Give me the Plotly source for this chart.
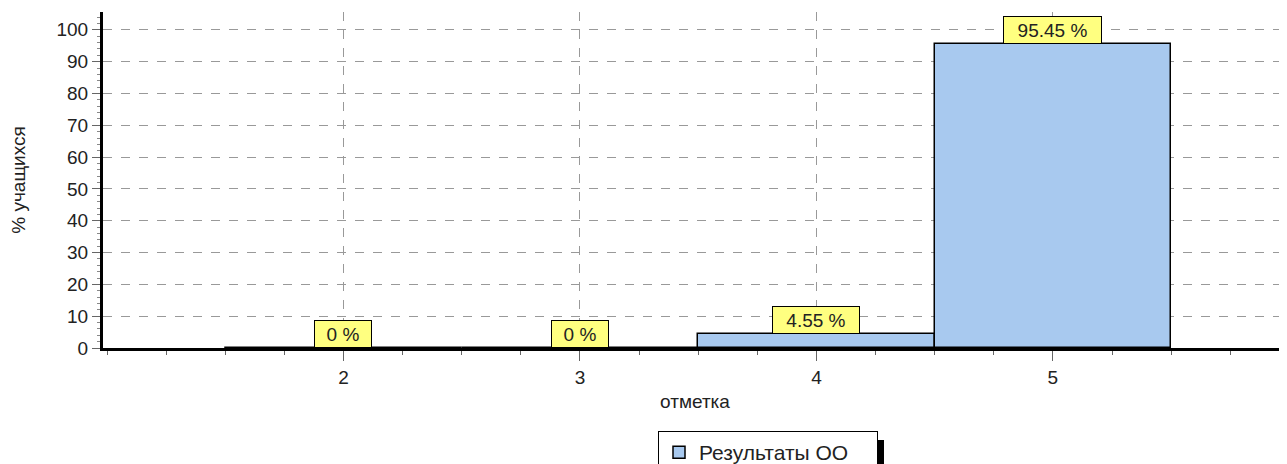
import plotly.graph_objects as go

categories = [2, 3, 4, 5]
values = [0, 0, 4.55, 95.45]
labels = ["0 %", "0 %", "4.55 %", "95.45 %"]
series_name = "Результаты ОО"
x_title = "отметка"
y_title = "% учащихся"
y_ticks = [0, 10, 20, 30, 40, 50, 60, 70, 80, 90, 100]

FONT = "Liberation Sans, Arial, sans-serif"
label_widths = [52, 52, 82, 93]

# page body has an 8px default margin; figure sized to fit the 1287x464 window
W, H = 1279, 456
L, T, B = 95, 4, 116
PW, PH = W - L, H - T - B

fig = go.Figure()
fig.add_trace(go.Bar(
    x=categories, y=values, width=1.0, name=series_name + "\u00a0" * 4,
    marker=dict(color="#a8c9ef", line=dict(color="black", width=1.5)),
    showlegend=True,
))

for xv, yv, txt, w in zip(categories, values, labels, label_widths):
    fig.add_annotation(
        x=xv, y=yv, text=txt, showarrow=False, yanchor="bottom", xanchor="center",
        bgcolor="#ffff80", bordercolor="black", borderwidth=1, borderpad=2,
        width=w, height=22, font=dict(family=FONT, size=19, color="#222"),
    )

fig.update_layout(
    width=W, height=H,
    margin=dict(l=L, r=0, t=T, b=B, autoexpand=False),
    plot_bgcolor="white", paper_bgcolor="white",
    font=dict(family=FONT, size=19, color="#222"),
    bargap=0,
    legend=dict(
        orientation="h", x=(650 - L) / PW, xanchor="left", y=(T + PH - 423) / PH, yanchor="top",
        bordercolor="black", borderwidth=1, bgcolor="white",
        font=dict(family=FONT, size=21, color="#222"),
    ),
    xaxis=dict(
        range=[0.983, 5.99], tickvals=categories, ticktext=[str(c) for c in categories],
        showgrid=True, gridcolor="#999", griddash="dash", gridwidth=1,
        showline=True, linecolor="black", linewidth=3,
        ticks="outside", ticklen=10, tickcolor="#666", tickwidth=1,
        minor=dict(tickmode="linear", tick0=0, dtick=0.25, ticks="outside", ticklen=4, tickcolor="#666", showgrid=False),
        title=dict(text=x_title, font=dict(size=19, family=FONT, color="#222"), standoff=8),
        zeroline=False, fixedrange=True, automargin=False,
    ),
    yaxis=dict(
        range=[0, 105.6], tickvals=y_ticks,
        showgrid=True, gridcolor="#999", griddash="dash", gridwidth=1,
        showline=True, linecolor="black", linewidth=3,
        ticks="outside", ticklen=8, tickcolor="#666", tickwidth=1,
        minor=dict(tickmode="linear", tick0=0, dtick=2, ticks="outside", ticklen=3, tickcolor="#888", showgrid=False),
        title=dict(text=y_title, font=dict(size=19, family=FONT, color="#222"), standoff=38),
        zeroline=False, fixedrange=True, automargin=False,
    ),
)

# legend shadow
fig.add_shape(type="rect", xref="paper", yref="paper",
              x0=(870 - L) / PW, x1=(876 - L) / PW,
              y0=(T + PH - 460) / PH, y1=(T + PH - 432) / PH,
              fillcolor="black", line=dict(width=0), layer="below")

fig.write_html("out.html")
